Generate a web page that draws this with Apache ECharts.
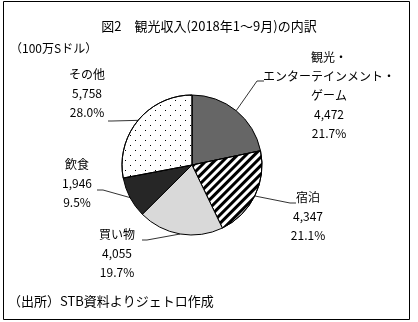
<!DOCTYPE html>
<html>
<head>
<meta charset="utf-8">
<script src="https://cdn.jsdelivr.net/npm/echarts@6/dist/echarts.min.js"></script>
<style>
  html, body { margin: 0; padding: 0; background: #fff; }
  #chart { width: 418px; height: 322px; }
</style>
</head>
<body>
<div id="chart"></div>
<script>
// Tourism receipts, Jan–Sep 2018 (million S$)
const categories = ['観光・エンターテインメント・ゲーム', '宿泊', '買い物', '飲食', 'その他'];
const labelNames = ['観光・\nエンターテインメント・\nゲーム', '宿泊', '買い物', '飲食', 'その他'];
const values = [4472, 4347, 4055, 1946, 5758];

const FONT = '"Noto Sans CJK JP", "Noto Sans", sans-serif';

// slice fills
const fills = ['#666666', '#ffffff', '#d9d9d9', '#262626', '#ffffff'];
const decals = [
  null,
  { symbol: 'rect', dashArrayX: [1, 0], dashArrayY: [3, 3], rotation: -Math.PI / 4, color: '#000' },
  null,
  null,
  { symbol: 'rect', dashArrayX: [[1, 9], [0, 5, 1, 4]], dashArrayY: [1, 4], color: '#000' }
];

// label placement: text centre x, text top y, elbow and end of the leader line
const labelPlaces = [
  { x: 329, y: 48, elbow: [257, 81], end: [264, 81] },
  { x: 308, y: 188, elbow: [290, 203], end: [296, 203] },
  { x: 117, y: 225, elbow: [147, 240], end: [142, 240] },
  { x: 77, y: 155, elbow: [103, 190], end: [97, 190] },
  { x: 87, y: 65, elbow: [112, 121], end: [108, 121] }
];

const total = values.reduce((a, b) => a + b, 0);

const chart = echarts.init(document.getElementById('chart'), null, { renderer: 'canvas' });

chart.setOption({
  backgroundColor: '#fff',
  animation: false,
  title: [
    {
      text: '図2　観光収入(2018年1～9月)の内訳',
      left: 204, top: 15, textAlign: 'center',
      textStyle: { fontFamily: FONT, fontSize: 13, fontWeight: 'normal', color: '#000' }
    },
    {
      text: '（100万Sドル）',
      left: 5, top: 37,
      textStyle: { fontFamily: FONT, fontSize: 12, fontWeight: 'normal', color: '#000' }
    },
    {
      text: '（出所）STB資料よりジェトロ作成',
      left: 3, top: 290,
      textStyle: { fontFamily: FONT, fontSize: 13, fontWeight: 'normal', color: '#000' }
    }
  ],
  graphic: [
    {
      type: 'rect', silent: true,
      shape: { x: 3.5, y: 1.5, width: 406, height: 318 },
      style: { fill: 'none', stroke: '#000', lineWidth: 1 }
    }
  ],
  series: [
    {
      type: 'pie',
      center: [192, 165],
      radius: 70,
      startAngle: 90,
      clockwise: true,
      avoidLabelOverlap: false,
      itemStyle: { borderColor: '#000', borderWidth: 1 },
      label: {
        show: true,
        position: 'outside',
        fontFamily: FONT,
        fontSize: 12,
        lineHeight: 19,
        color: '#000',
        align: 'center',
        formatter: p => labelNames[p.dataIndex] + '\n' +
          p.value.toLocaleString('en-US') + '\n' +
          (p.value / total * 100).toFixed(1) + '%'
      },
      labelLine: { show: true, lineStyle: { color: '#333', width: 1 } },
      labelLayout: p => {
        const pl = labelPlaces[p.dataIndex];
        const start = p.labelLinePoints ? p.labelLinePoints[0] : pl.elbow;
        return {
          x: pl.x, y: pl.y, align: 'center', verticalAlign: 'top',
          labelLinePoints: [start, pl.elbow, pl.end]
        };
      },
      data: categories.map((name, i) => ({
        name,
        value: values[i],
        itemStyle: { color: fills[i], decal: decals[i] || undefined }
      }))
    }
  ]
});
</script>
</body>
</html>
